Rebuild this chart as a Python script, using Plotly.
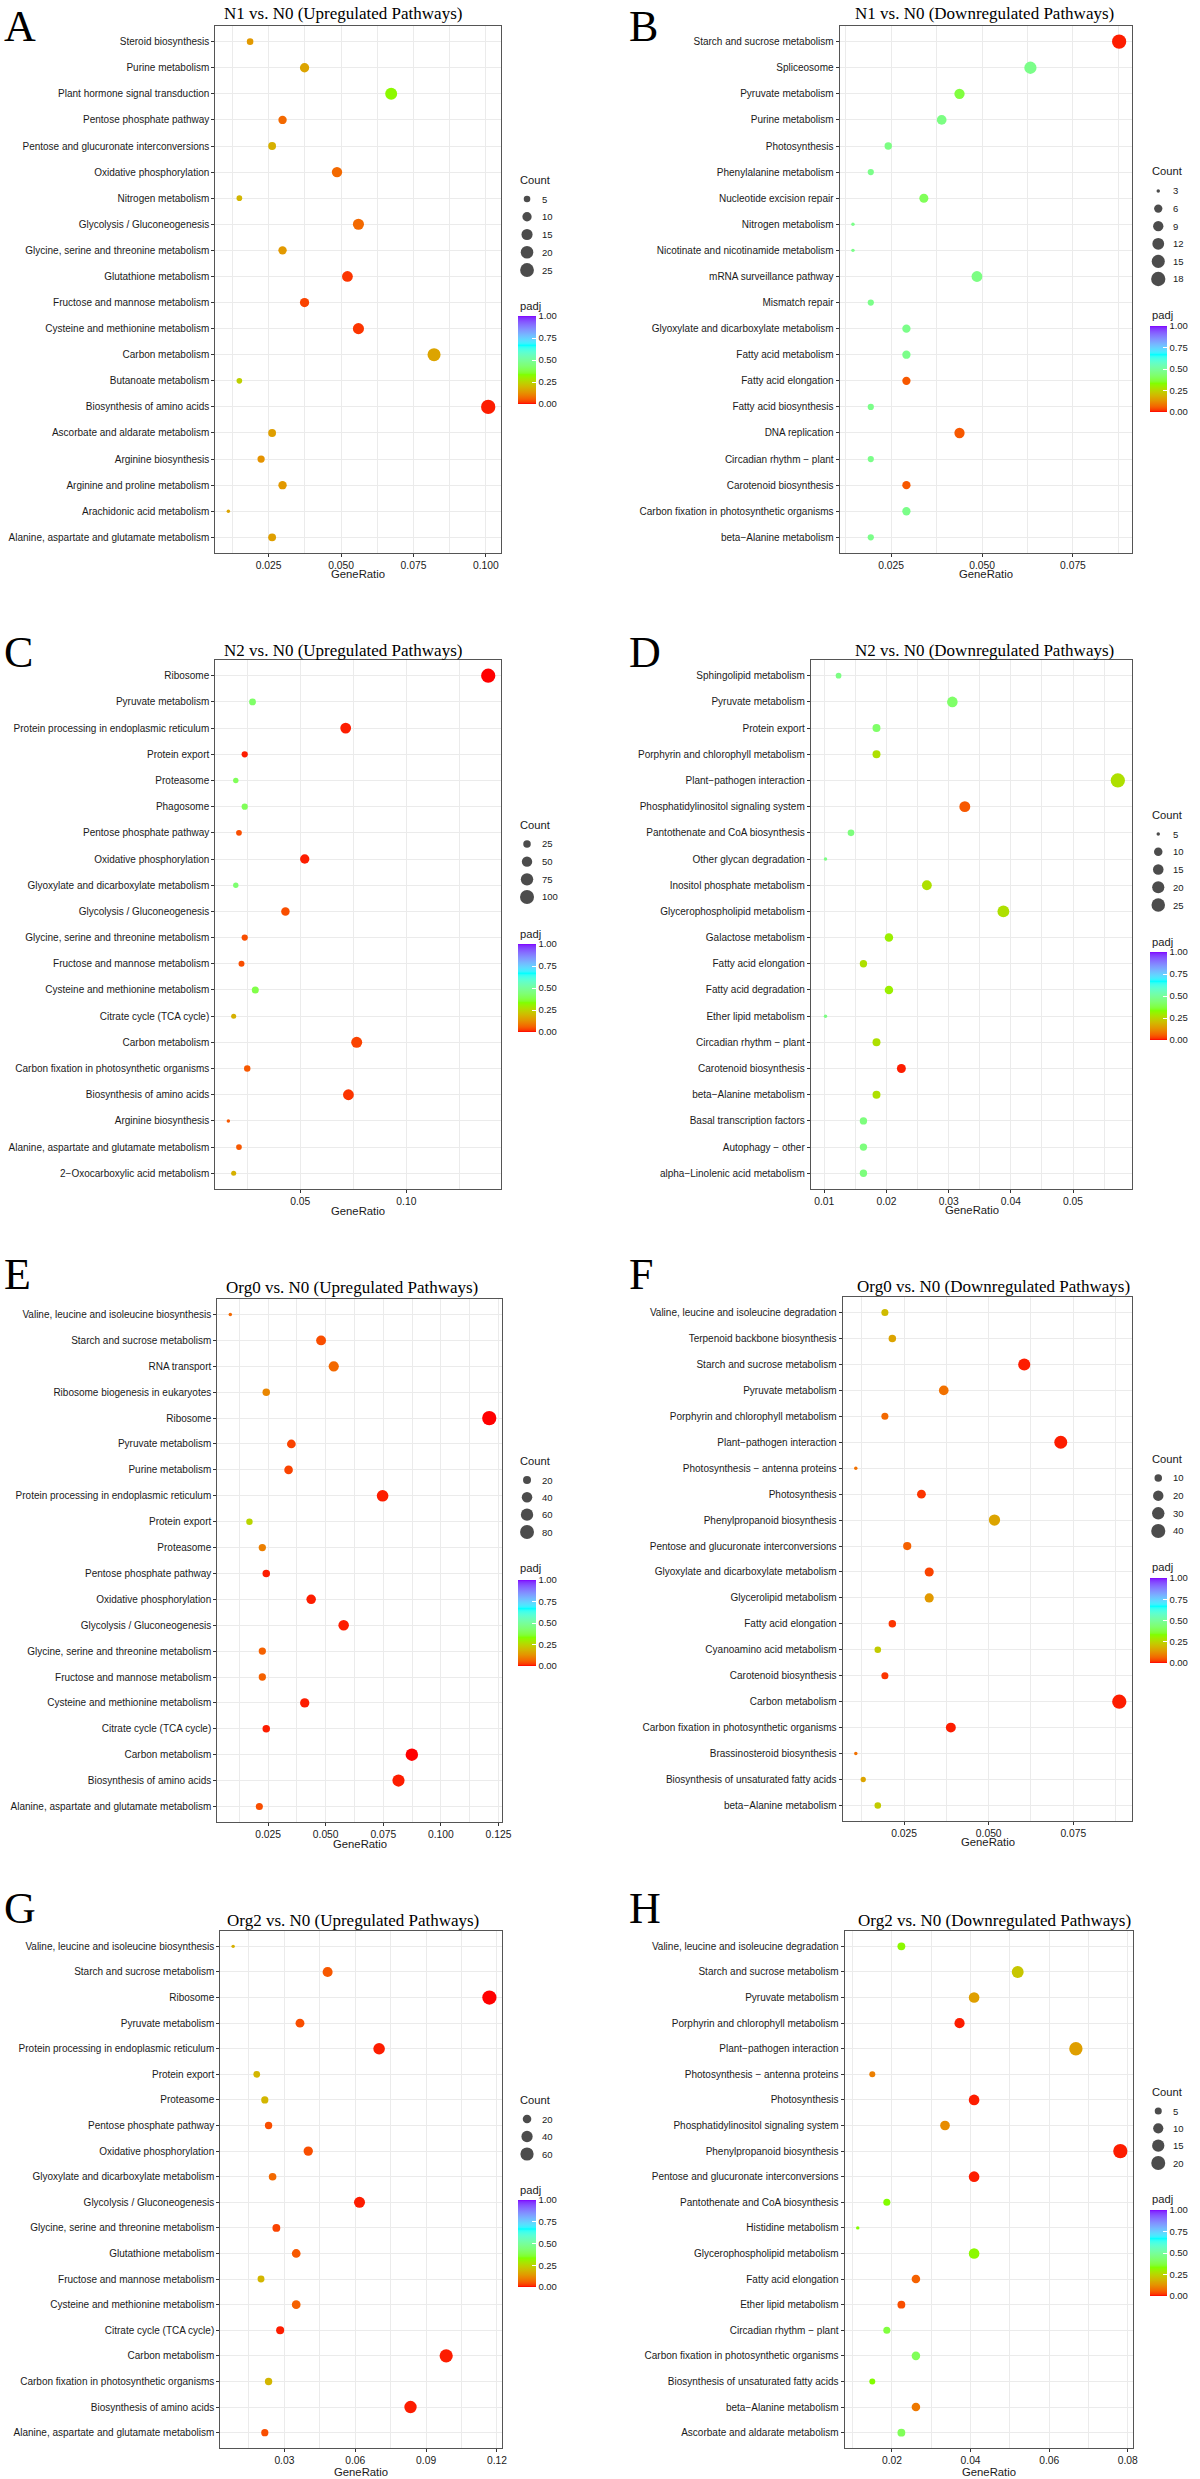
import math
import plotly.graph_objects as go

W, H = 1200, 2479

# ======================= DATA =======================
A_title = "N1 vs. N0 (Upregulated Pathways)"
A_pathways = ["Steroid biosynthesis", "Purine metabolism", "Plant hormone signal transduction",
              "Pentose phosphate pathway", "Pentose and glucuronate interconversions",
              "Oxidative phosphorylation", "Nitrogen metabolism", "Glycolysis / Gluconeogenesis",
              "Glycine, serine and threonine metabolism", "Glutathione metabolism",
              "Fructose and mannose metabolism", "Cysteine and methionine metabolism",
              "Carbon metabolism", "Butanoate metabolism", "Biosynthesis of amino acids",
              "Ascorbate and aldarate metabolism", "Arginine biosynthesis",
              "Arginine and proline metabolism", "Arachidonic acid metabolism",
              "Alanine, aspartate and glutamate metabolism"]
A_ratio = [0.0186, 0.0374, 0.0673, 0.0298, 0.0262, 0.0486, 0.0149, 0.0560, 0.0298, 0.0522,
           0.0374, 0.0560, 0.0821, 0.0149, 0.1008, 0.0262, 0.0224, 0.0298, 0.0111, 0.0262]
A_count = [5, 10, 18, 8, 7, 13, 4, 15, 8, 14, 10, 15, 22, 4, 27, 7, 6, 8, 3, 7]
A_padj = [0.14, 0.16, 0.32, 0.07, 0.18, 0.07, 0.19, 0.07, 0.14, 0.02,
          0.03, 0.02, 0.16, 0.24, 0.01, 0.15, 0.13, 0.14, 0.16, 0.15]
A_xticks = [0.025, 0.050, 0.075, 0.100]
A_xticklabels = ["0.025", "0.050", "0.075", "0.100"]
A_count_breaks = [5, 10, 15, 20, 25]

B_title = "N1 vs. N0 (Downregulated Pathways)"
B_pathways = ["Starch and sucrose metabolism", "Spliceosome", "Pyruvate metabolism",
              "Purine metabolism", "Photosynthesis", "Phenylalanine metabolism",
              "Nucleotide excision repair", "Nitrogen metabolism",
              "Nicotinate and nicotinamide metabolism", "mRNA surveillance pathway",
              "Mismatch repair", "Glyoxylate and dicarboxylate metabolism",
              "Fatty acid metabolism", "Fatty acid elongation", "Fatty acid biosynthesis",
              "DNA replication", "Circadian rhythm \u2212 plant", "Carotenoid biosynthesis",
              "Carbon fixation in photosynthetic organisms", "beta\u2212Alanine metabolism"]
B_ratio = [0.0877, 0.0633, 0.0438, 0.0389, 0.0242, 0.0194, 0.0340, 0.0145, 0.0145, 0.0486,
           0.0194, 0.0292, 0.0292, 0.0292, 0.0194, 0.0438, 0.0194, 0.0292, 0.0292, 0.0194]
B_count = [18, 13, 9, 8, 5, 4, 7, 3, 3, 10, 4, 6, 6, 6, 4, 9, 4, 6, 6, 4]
B_padj = [0.01, 0.47, 0.37, 0.46, 0.46, 0.47, 0.40, 0.47, 0.47, 0.46,
          0.47, 0.47, 0.47, 0.05, 0.47, 0.05, 0.47, 0.05, 0.47, 0.47]
B_xticks = [0.025, 0.050, 0.075]
B_xticklabels = ["0.025", "0.050", "0.075"]
B_count_breaks = [3, 6, 9, 12, 15, 18]

C_title = "N2 vs. N0 (Upregulated Pathways)"
C_pathways = ["Ribosome", "Pyruvate metabolism", "Protein processing in endoplasmic reticulum",
              "Protein export", "Proteasome", "Phagosome", "Pentose phosphate pathway",
              "Oxidative phosphorylation", "Glyoxylate and dicarboxylate metabolism",
              "Glycolysis / Gluconeogenesis", "Glycine, serine and threonine metabolism",
              "Fructose and mannose metabolism", "Cysteine and methionine metabolism",
              "Citrate cycle (TCA cycle)", "Carbon metabolism",
              "Carbon fixation in photosynthetic organisms", "Biosynthesis of amino acids",
              "Arginine biosynthesis", "Alanine, aspartate and glutamate metabolism",
              "2\u2212Oxocarboxylic acid metabolism"]
C_ratio = [0.1386, 0.0275, 0.0714, 0.0238, 0.0196, 0.0238, 0.0211, 0.0521, 0.0196, 0.0430,
           0.0238, 0.0223, 0.0288, 0.0186, 0.0766, 0.0250, 0.0727, 0.0161, 0.0211, 0.0186]
C_count = [104, 21, 54, 18, 15, 18, 16, 39, 15, 32, 18, 17, 22, 14, 57, 19, 55, 12, 16, 14]
C_padj = [0.00, 0.42, 0.01, 0.01, 0.40, 0.40, 0.04, 0.01, 0.43, 0.04,
          0.04, 0.04, 0.38, 0.18, 0.03, 0.05, 0.02, 0.05, 0.05, 0.18]
C_xticks = [0.05, 0.10]
C_xticklabels = ["0.05", "0.10"]
C_count_breaks = [25, 50, 75, 100]

D_title = "N2 vs. N0 (Downregulated Pathways)"
D_pathways = ["Sphingolipid metabolism", "Pyruvate metabolism", "Protein export",
              "Porphyrin and chlorophyll metabolism", "Plant\u2212pathogen interaction",
              "Phosphatidylinositol signaling system", "Pantothenate and CoA biosynthesis",
              "Other glycan degradation", "Inositol phosphate metabolism",
              "Glycerophospholipid metabolism", "Galactose metabolism", "Fatty acid elongation",
              "Fatty acid degradation", "Ether lipid metabolism", "Circadian rhythm \u2212 plant",
              "Carotenoid biosynthesis", "beta\u2212Alanine metabolism",
              "Basal transcription factors", "Autophagy \u2212 other",
              "alpha\u2212Linolenic acid metabolism"]
D_ratio = [0.0123, 0.0306, 0.0184, 0.0184, 0.0572, 0.0326, 0.0143, 0.0102, 0.0265, 0.0388,
           0.0204, 0.0163, 0.0204, 0.0102, 0.0184, 0.0224, 0.0184, 0.0163, 0.0163, 0.0163]
D_count = [6, 15, 9, 9, 28, 16, 7, 5, 13, 19, 10, 8, 10, 5, 9, 11, 9, 8, 8, 8]
D_padj = [0.46, 0.42, 0.42, 0.27, 0.27, 0.05, 0.45, 0.46, 0.27, 0.27,
          0.30, 0.27, 0.30, 0.46, 0.27, 0.01, 0.27, 0.45, 0.45, 0.45]
D_xticks = [0.01, 0.02, 0.03, 0.04, 0.05]
D_xticklabels = ["0.01", "0.02", "0.03", "0.04", "0.05"]
D_count_breaks = [5, 10, 15, 20, 25]

E_title = "Org0 vs. N0 (Upregulated Pathways)"
E_pathways = ["Valine, leucine and isoleucine biosynthesis", "Starch and sucrose metabolism",
              "RNA transport", "Ribosome biogenesis in eukaryotes", "Ribosome",
              "Pyruvate metabolism", "Purine metabolism",
              "Protein processing in endoplasmic reticulum", "Protein export", "Proteasome",
              "Pentose phosphate pathway", "Oxidative phosphorylation",
              "Glycolysis / Gluconeogenesis", "Glycine, serine and threonine metabolism",
              "Fructose and mannose metabolism", "Cysteine and methionine metabolism",
              "Citrate cycle (TCA cycle)", "Carbon metabolism", "Biosynthesis of amino acids",
              "Alanine, aspartate and glutamate metabolism"]
E_ratio = [0.0086, 0.0480, 0.0535, 0.0242, 0.1210, 0.0351, 0.0339, 0.0747, 0.0169, 0.0225,
           0.0242, 0.0437, 0.0578, 0.0225, 0.0225, 0.0409, 0.0242, 0.0874, 0.0816, 0.0212]
E_count = [6, 34, 37, 17, 85, 25, 24, 52, 12, 16, 17, 31, 40, 16, 16, 29, 17, 61, 57, 15]
E_padj = [0.07, 0.04, 0.07, 0.11, 0.00, 0.03, 0.03, 0.01, 0.25, 0.10,
          0.01, 0.01, 0.01, 0.06, 0.06, 0.01, 0.01, 0.00, 0.01, 0.04]
E_xticks = [0.025, 0.050, 0.075, 0.100, 0.125]
E_xticklabels = ["0.025", "0.050", "0.075", "0.100", "0.125"]
E_count_breaks = [20, 40, 60, 80]

F_title = "Org0 vs. N0 (Downregulated Pathways)"
F_pathways = ["Valine, leucine and isoleucine degradation", "Terpenoid backbone biosynthesis",
              "Starch and sucrose metabolism", "Pyruvate metabolism",
              "Porphyrin and chlorophyll metabolism", "Plant\u2212pathogen interaction",
              "Photosynthesis \u2212 antenna proteins", "Photosynthesis",
              "Phenylpropanoid biosynthesis", "Pentose and glucuronate interconversions",
              "Glyoxylate and dicarboxylate metabolism", "Glycerolipid metabolism",
              "Fatty acid elongation", "Cyanoamino acid metabolism", "Carotenoid biosynthesis",
              "Carbon metabolism", "Carbon fixation in photosynthetic organisms",
              "Brassinosteroid biosynthesis", "Biosynthesis of unsaturated fatty acids",
              "beta\u2212Alanine metabolism"]
F_ratio = [0.0193, 0.0215, 0.0605, 0.0367, 0.0193, 0.0713, 0.0107, 0.0301, 0.0517, 0.0259,
           0.0324, 0.0324, 0.0215, 0.0172, 0.0193, 0.0886, 0.0388, 0.0107, 0.0129, 0.0172]
F_count = [9, 10, 28, 17, 9, 33, 5, 14, 24, 12, 15, 15, 10, 8, 9, 41, 18, 5, 6, 8]
F_padj = [0.20, 0.16, 0.01, 0.08, 0.07, 0.01, 0.08, 0.02, 0.16, 0.06,
          0.03, 0.14, 0.02, 0.23, 0.02, 0.01, 0.01, 0.08, 0.16, 0.23]
F_xticks = [0.025, 0.050, 0.075]
F_xticklabels = ["0.025", "0.050", "0.075"]
F_count_breaks = [10, 20, 30, 40]

G_title = "Org2 vs. N0 (Upregulated Pathways)"
G_pathways = ["Valine, leucine and isoleucine biosynthesis", "Starch and sucrose metabolism",
              "Ribosome", "Pyruvate metabolism", "Protein processing in endoplasmic reticulum",
              "Protein export", "Proteasome", "Pentose phosphate pathway",
              "Oxidative phosphorylation", "Glyoxylate and dicarboxylate metabolism",
              "Glycolysis / Gluconeogenesis", "Glycine, serine and threonine metabolism",
              "Glutathione metabolism", "Fructose and mannose metabolism",
              "Cysteine and methionine metabolism", "Citrate cycle (TCA cycle)",
              "Carbon metabolism", "Carbon fixation in photosynthetic organisms",
              "Biosynthesis of amino acids", "Alanine, aspartate and glutamate metabolism"]
G_ratio = [0.0083, 0.0483, 0.1168, 0.0366, 0.0701, 0.0183, 0.0217, 0.0233, 0.0401, 0.0250,
           0.0618, 0.0266, 0.0350, 0.0201, 0.0350, 0.0282, 0.0985, 0.0233, 0.0834, 0.0217]
G_count = [5, 30, 72, 22, 43, 11, 13, 14, 25, 15, 38, 16, 21, 12, 21, 17, 60, 14, 51, 13]
G_padj = [0.18, 0.05, 0.00, 0.04, 0.01, 0.19, 0.19, 0.04, 0.04, 0.07,
          0.01, 0.03, 0.05, 0.19, 0.06, 0.01, 0.01, 0.19, 0.01, 0.04]
G_xticks = [0.03, 0.06, 0.09, 0.12]
G_xticklabels = ["0.03", "0.06", "0.09", "0.12"]
G_count_breaks = [20, 40, 60]

H_title = "Org2 vs. N0 (Downregulated Pathways)"
H_pathways = ["Valine, leucine and isoleucine degradation", "Starch and sucrose metabolism",
              "Pyruvate metabolism", "Porphyrin and chlorophyll metabolism",
              "Plant\u2212pathogen interaction", "Photosynthesis \u2212 antenna proteins",
              "Photosynthesis", "Phosphatidylinositol signaling system",
              "Phenylpropanoid biosynthesis", "Pentose and glucuronate interconversions",
              "Pantothenate and CoA biosynthesis", "Histidine metabolism",
              "Glycerophospholipid metabolism", "Fatty acid elongation", "Ether lipid metabolism",
              "Circadian rhythm \u2212 plant", "Carbon fixation in photosynthetic organisms",
              "Biosynthesis of unsaturated fatty acids", "beta\u2212Alanine metabolism",
              "Ascorbate and aldarate metabolism"]
H_ratio = [0.0224, 0.0520, 0.0409, 0.0372, 0.0668, 0.0150, 0.0409, 0.0335, 0.0781, 0.0409,
           0.0187, 0.0113, 0.0409, 0.0261, 0.0224, 0.0187, 0.0261, 0.0150, 0.0261, 0.0224]
H_count = [6, 14, 11, 10, 18, 4, 11, 9, 21, 11, 5, 3, 11, 7, 6, 5, 7, 4, 7, 6]
H_padj = [0.32, 0.22, 0.15, 0.01, 0.15, 0.10, 0.01, 0.12, 0.01, 0.01,
          0.33, 0.33, 0.32, 0.06, 0.04, 0.37, 0.40, 0.33, 0.09, 0.40]
H_xticks = [0.02, 0.04, 0.06, 0.08]
H_xticklabels = ["0.02", "0.04", "0.06", "0.08"]
H_count_breaks = [5, 10, 15, 20]

padj_ticks = [0.0, 0.25, 0.5, 0.75, 1.0]
padj_ticklabels = ["0.00", "0.25", "0.50", "0.75", "1.00"]
gradient_colours = ["#FF0000", "#80FF00", "#00FFFF", "#8000FF"]   # rainbow(4)

# ======================= LAYOUT GEOMETRY (pixels) =======================
# gr = (y, anchor) for the "GeneRatio" axis title
GEOM = {
    "A": dict(plot=(217, 505, 26, 553), title=(346, 14), letter=(2, 0), gr=(574, "middle"),
              cnt=(522, 180), key_x=531, lab_x=544, keys=(199, 270),
              padj=(522, 306), bar=(522, 540, 316, 404), minor=0.0125),
    "B": dict(plot=(846, 1141, 26, 553), title=(992, 14), letter=(632, 0), gr=(574, "middle"),
              cnt=(1159, 171), key_x=1167, lab_x=1180, keys=(191, 279),
              padj=(1159, 315), bar=(1159, 1176, 326, 412), minor=0.0125),
    "C": dict(plot=(217, 505, 660, 1189), title=(346, 650), letter=(2, 626), gr=(1211, "middle"),
              cnt=(522, 825), key_x=531, lab_x=544, keys=(844, 897),
              padj=(522, 934), bar=(522, 540, 944, 1032), minor=0.025),
    "D": dict(plot=(817, 1141, 660, 1189), title=(992, 650), letter=(632, 626), gr=(1210, "middle"),
              cnt=(1159, 815), key_x=1167, lab_x=1180, keys=(834, 905),
              padj=(1159, 942), bar=(1159, 1176, 952, 1040), minor=0.005),
    "E": dict(plot=(219, 506, 1299, 1822), title=(355, 1287), letter=(2, 1248), gr=(1844, "middle"),
              cnt=(522, 1461), key_x=531, lab_x=544, keys=(1480, 1532),
              padj=(522, 1568), bar=(522, 540, 1580, 1666), minor=0.0125),
    "F": dict(plot=(849, 1141, 1297, 1821), title=(1001, 1286), letter=(632, 1248), gr=(1842, "middle"),
              cnt=(1159, 1459), key_x=1167, lab_x=1180, keys=(1478, 1531),
              padj=(1159, 1567), bar=(1159, 1176, 1578, 1663), minor=0.0125),
    "G": dict(plot=(222, 506, 1931, 2448), title=(356, 1920), letter=(2, 1882), gr=(2479, "bottom"),
              cnt=(522, 2100), key_x=531, lab_x=544, keys=(2119, 2154),
              padj=(522, 2190), bar=(522, 540, 2200, 2287), minor=0.015),
    "H": dict(plot=(851, 1142, 1931, 2448), title=(1002, 1920), letter=(632, 1882), gr=(2479, "bottom"),
              cnt=(1159, 2092), key_x=1167, lab_x=1180, keys=(2111, 2163),
              padj=(1159, 2199), bar=(1159, 1176, 2210, 2296), minor=0.01),
}

PANELS = [
    ("A", A_title, A_pathways, A_ratio, A_count, A_padj, A_xticks, A_xticklabels, A_count_breaks),
    ("B", B_title, B_pathways, B_ratio, B_count, B_padj, B_xticks, B_xticklabels, B_count_breaks),
    ("C", C_title, C_pathways, C_ratio, C_count, C_padj, C_xticks, C_xticklabels, C_count_breaks),
    ("D", D_title, D_pathways, D_ratio, D_count, D_padj, D_xticks, D_xticklabels, D_count_breaks),
    ("E", E_title, E_pathways, E_ratio, E_count, E_padj, E_xticks, E_xticklabels, E_count_breaks),
    ("F", F_title, F_pathways, F_ratio, F_count, F_padj, F_xticks, F_xticklabels, F_count_breaks),
    ("G", G_title, G_pathways, G_ratio, G_count, G_padj, G_xticks, G_xticklabels, G_count_breaks),
    ("H", H_title, H_pathways, H_ratio, H_count, H_padj, H_xticks, H_xticklabels, H_count_breaks),
]

# ======================= COLOUR SCALE (Lab interpolation like ggplot) =======================
def _lin(c):
    return c / 12.92 if c <= 0.04045 else ((c + 0.055) / 1.055) ** 2.4


def _delin(c):
    c = max(0.0, min(1.0, c))
    return 12.92 * c if c <= 0.0031308 else 1.055 * c ** (1 / 2.4) - 0.055


def hex2lab(h):
    r, g, b = [_lin(int(h[i:i + 2], 16) / 255) for i in (1, 3, 5)]
    X = 0.4124564 * r + 0.3575761 * g + 0.1804375 * b
    Y = 0.2126729 * r + 0.7151522 * g + 0.0721750 * b
    Z = 0.0193339 * r + 0.1191920 * g + 0.9503041 * b

    def f(t):
        return t ** (1 / 3) if t > 216 / 24389 else (24389 / 27 * t + 16) / 116
    fx, fy, fz = f(X / 0.95047), f(Y), f(Z / 1.08883)
    return (116 * fy - 16, 500 * (fx - fy), 200 * (fy - fz))


def lab2rgb(L, a, b):
    fy = (L + 16) / 116
    fx = fy + a / 500
    fz = fy - b / 200

    def finv(t):
        return t ** 3 if t ** 3 > 216 / 24389 else (116 * t - 16) / (24389 / 27)
    X, Y, Z = 0.95047 * finv(fx), finv(fy), 1.08883 * finv(fz)
    r = 3.2404542 * X - 1.5371385 * Y - 0.4985314 * Z
    g = -0.9692660 * X + 1.8760108 * Y + 0.0415560 * Z
    bb = 0.0556434 * X - 0.2040259 * Y + 1.0572252 * Z
    return "rgb(%d,%d,%d)" % tuple(round(255 * _delin(v)) for v in (r, g, bb))


_labs = [hex2lab(c) for c in gradient_colours]
COLORSCALE = []
NSTEP = 60
for k in range(NSTEP + 1):
    t = k / NSTEP
    seg = min(int(t * (len(_labs) - 1)), len(_labs) - 2)
    u = t * (len(_labs) - 1) - seg
    L = [_labs[seg][j] + (_labs[seg + 1][j] - _labs[seg][j]) * u for j in range(3)]
    COLORSCALE.append([t, lab2rgb(*L)])

# ======================= STYLE =======================
SANS = "Liberation Sans, Arial, sans-serif"
SERIF = "Liberation Serif, Times New Roman, serif"
TXT = "#1a1a1a"
GRID = "#EBEBEB"
FRAME = "#555555"


def px_x(v):
    return min(1.0, max(0.0, v / W))


def px_y(v):
    return min(1.0, max(0.0, 1 - v / H))


def diam_fn(counts):
    lo, hi = min(counts), max(counts)

    def f(c):
        frac = (c - lo) / (hi - lo)
        frac = max(0.0, min(1.0, frac))
        return 3.46 + 10.8 * math.sqrt(frac)
    return f


fig = go.Figure()
annotations = []
layout = {}

for i, (key, title, paths, ratio, count, padj, xt, xtl, breaks) in enumerate(PANELS, start=1):
    g = GEOM[key]
    l, r, t, b = g["plot"]
    diam = diam_fn(count)
    sfx = "" if i == 1 else str(i)
    n = len(paths)

    lo, hi = min(ratio), max(ratio)
    pad = 0.05 * (hi - lo)

    bx0, bx1, by0, by1 = g["bar"]
    fig.add_trace(go.Scatter(
        x=ratio, y=paths, mode="markers", xaxis="x" + sfx, yaxis="y" + sfx,
        showlegend=False, cliponaxis=False, hoverinfo="x+y+text",
        text=["Count: %d, padj: %.2f" % (c, p) for c, p in zip(count, padj)],
        marker=dict(size=[diam(c) for c in count], color=padj, colorscale=COLORSCALE,
                    cmin=0, cmax=1, opacity=1, line=dict(width=0),
                    showscale=True,
                    colorbar=dict(x=px_x(bx0), xanchor="left", xref="paper",
                                  y=px_y((by0 + by1) / 2), yanchor="middle", yref="paper",
                                  len=by1 - by0, lenmode="pixels",
                                  thickness=bx1 - bx0, thicknessmode="pixels",
                                  xpad=0, ypad=0, outlinewidth=0,
                                  tickvals=padj_ticks, ticktext=padj_ticklabels,
                                  ticks="inside", ticklen=4, tickcolor="white", tickwidth=1,
                                  tickfont=dict(family=SANS, size=9.5, color=TXT)))))

    layout["xaxis" + sfx] = dict(
        domain=[px_x(l), px_x(r)], anchor="y" + sfx, range=[lo - pad, hi + pad],
        tickvals=xt, ticktext=xtl, ticks="outside", ticklen=3, tickcolor="#333333",
        tickwidth=1, tickfont=dict(family=SANS, size=10.3, color=TXT),
        showgrid=True, gridcolor=GRID, gridwidth=1.1, zeroline=False,
        minor=dict(dtick=g["minor"], tick0=0, showgrid=True, gridcolor=GRID, gridwidth=0.55),
        showline=True, mirror=True, linecolor=FRAME, linewidth=1.2, fixedrange=True)
    layout["yaxis" + sfx] = dict(
        domain=[px_y(b), px_y(t)], anchor="x" + sfx, type="category",
        categoryorder="array", categoryarray=paths, range=[n - 1 + 0.6, -0.6],
        ticks="outside", ticklen=3, tickcolor="#333333", tickwidth=1,
        tickfont=dict(family=SANS, size=10, color=TXT),
        showgrid=True, gridcolor=GRID, gridwidth=1.1, zeroline=False,
        showline=True, mirror=True, linecolor=FRAME, linewidth=1.2, fixedrange=True)

    # ---- size legend (own hidden axes, 10 px per x unit) ----
    j = 8 + i
    k0, k1 = g["keys"]
    nb = len(breaks)
    step = (k1 - k0) / (nb - 1)
    kx = g["key_x"]
    fig.add_trace(go.Scatter(
        x=[0] * nb, y=list(range(nb)), mode="markers", xaxis="x%d" % j, yaxis="y%d" % j,
        showlegend=False, hoverinfo="skip", cliponaxis=False,
        marker=dict(size=[diam(v) for v in breaks], color="black", line=dict(width=0))))
    layout["xaxis%d" % j] = dict(domain=[px_x(kx - 10), px_x(kx + 30)], range=[-1, 3],
                                 visible=False, anchor="y%d" % j, fixedrange=True)
    layout["yaxis%d" % j] = dict(domain=[px_y(k1 + step / 2), px_y(k0 - step / 2)],
                                 range=[nb - 0.5, -0.5], visible=False, anchor="x%d" % j,
                                 fixedrange=True)
    for idx, v in enumerate(breaks):
        annotations.append(dict(text=str(v), x=(g["lab_x"] - kx) / 10.0, y=idx,
                                xref="x%d" % j, yref="y%d" % j, xanchor="left",
                                yanchor="middle", showarrow=False,
                                font=dict(family=SANS, size=9.5, color=TXT)))

    # ---- text annotations ----
    annotations.append(dict(text=title, x=px_x(g["title"][0]), y=px_y(g["title"][1]),
                            xref="paper", yref="paper", xanchor="center", yanchor="middle",
                            showarrow=False, font=dict(family=SERIF, size=17, color="black")))
    annotations.append(dict(text=key, x=px_x(g["letter"][0]), y=px_y(g["letter"][1]),
                            xref="paper", yref="paper", xanchor="left", yanchor="top",
                            showarrow=False, font=dict(family=SERIF, size=44, color="black")))
    gy, ganchor = g["gr"]
    annotations.append(dict(text="GeneRatio", x=px_x((l + r) / 2), y=px_y(gy),
                            xref="paper", yref="paper", xanchor="center", yanchor=ganchor,
                            showarrow=False, borderpad=0,
                            font=dict(family=SANS, size=11.3, color=TXT)))
    annotations.append(dict(text="Count", x=px_x(g["cnt"][0]), y=px_y(g["cnt"][1]),
                            xref="paper", yref="paper", xanchor="left", yanchor="middle",
                            showarrow=False, font=dict(family=SANS, size=11.2, color=TXT)))
    annotations.append(dict(text="padj", x=px_x(g["padj"][0]), y=px_y(g["padj"][1]),
                            xref="paper", yref="paper", xanchor="left", yanchor="middle",
                            showarrow=False, font=dict(family=SANS, size=11.2, color=TXT)))

fig.update_layout(
    width=W, height=H, autosize=False,
    margin=dict(l=0, r=0, t=0, b=0, pad=0),
    paper_bgcolor="white", plot_bgcolor="white",
    showlegend=False, annotations=annotations,
    **layout)

fig.write_html("out.html", config={"displayModeBar": False},
               post_script="document.body.style.margin='0px';")
